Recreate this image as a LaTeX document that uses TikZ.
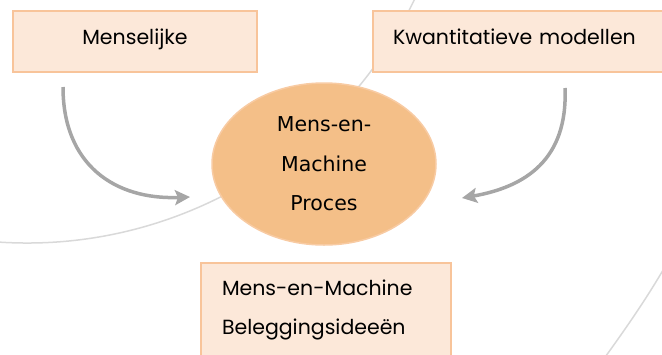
\documentclass[tikz,border=0pt]{standalone}
\usepackage{fontspec}
\setmainfont{Poppins}
\newfontfamily\procfont{DejaVu Sans}
\usepackage{tikz}
\usetikzlibrary{arrows.meta, shapes.geometric}
\definecolor{boxfill}{HTML}{FCE8D9}
\definecolor{boxline}{HTML}{F8C49A}
\definecolor{ovalfill}{HTML}{F4BF88}
\definecolor{ovalline}{HTML}{F8CBA3}
\definecolor{arrowgray}{HTML}{A6A6A6}
\definecolor{ringgray}{HTML}{D9D9D9}

\begin{document}
\begin{tikzpicture}[x=1pt, y=-1pt,
		box/.style={draw=boxline, fill=boxfill, line width=1.5pt, inner sep=0pt, font=\fontsize{20.5}{39}\selectfont},
		flow/.style={arrowgray, line width=3.5pt, -{Stealth[length=15pt, width=15pt, inset=3pt]}},
		ring/.style={ringgray, line width=1.5pt}]
	\useasboundingbox (0,0) rectangle (662,354);
	\clip (0,0) rectangle (662,354);
	\draw[ring] (27,-187) ++(22:430) arc[start angle=22, end angle=97, radius=430];
	\draw[ring] (670,258) .. controls (652,290) and (632,320) .. (603,360);
	\node[box, minimum width=244pt, minimum height=61pt, text height=15pt, text depth=10pt] (mens) at (135,41.5) {Menselijke};
	\node[box, minimum width=297pt, minimum height=61pt, text height=15pt, text depth=10pt, inner xsep=20pt, text width=257pt, align=left] (kwant) at (521.5,41.5) {Kwantitatieve modellen};
	\node[box, minimum width=250pt, minimum height=93pt, inner xsep=21pt, text width=208pt, align=left] (ideeen) at (326,309.5) {Mens-en-Machine\\Beleggingsideeën};
	\node[ellipse, draw=ovalline, fill=ovalfill, line width=1.5pt, minimum width=224pt, minimum height=162pt, inner sep=0pt, align=center, font=\procfont\fontsize{20.5}{39.5}\selectfont] (proces) at (324,164) {Mens-en-\\Machine\\Proces};
	\coordinate (mensout) at (63,87);
	\coordinate (kwantout) at (565,88);
	\coordinate (procinl) at (190,197);
	\coordinate (procinr) at (462,198);
	\draw[flow] (mensout) .. controls (63,165) and (115,200) .. (procinl);
	\draw[flow] (kwantout) .. controls (568,160) and (525,187) .. (procinr);
\end{tikzpicture}
\end{document}
